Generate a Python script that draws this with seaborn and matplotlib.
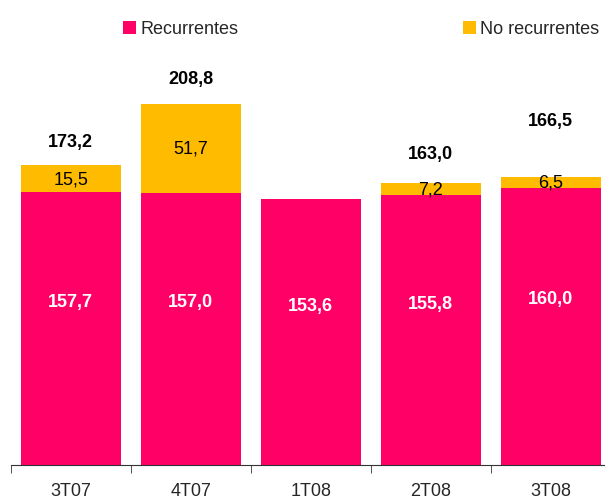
import pandas as pd
import numpy as np
import matplotlib.pyplot as plt
import seaborn as sns

# Step 1: Build the data table
df = pd.DataFrame({
    'Trimestre': ['3T07', '4T07', '1T08', '2T08', '3T08'],
    'Recurrentes': [157.7, 157.0, 153.6, 155.8, 160.0],
    'No recurrentes': [15.5, 51.7, 0.0, 7.2, 6.5],
})
df['Total'] = df['Recurrentes'] + df['No recurrentes']

# Step 2: Labels and where they go
total_txt = ['173,2', '208,8', '', '163,0', '166,5']
total_pos = [187, 223, 0, 180, 199]
nr_txt = ['15,5', '51,7', '', '7,2', '6,5']
nr_pos = [165.2, 183.2, 0, 159.6, 163.2]
rec_txt = ['157,7', '157,0', '153,6', '155,8', '160,0']

# Step 3: Style
sns.set_style('white')
plt.rcParams['font.family'] = ['Liberation Sans', 'DejaVu Sans']
pink = '#FF0066'
yellow = '#FFBB00'

fig = plt.figure(figsize=(6.05, 5.02), dpi=100)
ax = fig.add_axes([10.8 / 605, 36 / 502, 600 / 605, 406 / 502])

# Step 4: Stacked bars (total in yellow, recurring on top in pink)
sns.barplot(x='Trimestre', y='Total', data=df, color=yellow, width=0.83,
            saturation=1, linewidth=0, label='No recurrentes', ax=ax)
sns.barplot(x='Trimestre', y='Recurrentes', data=df, color=pink, width=0.83,
            saturation=1, linewidth=0, label='Recurrentes', ax=ax)

# Step 5: Value labels
for i in range(len(df)):
    ax.text(i, df['Recurrentes'][i] * 0.6, rec_txt[i], ha='center', va='center',
            color='white', fontsize=13, fontweight='bold')
    if nr_txt[i]:
        ax.text(i, nr_pos[i], nr_txt[i], ha='center', va='center',
                color='black', fontsize=13)
    if total_txt[i]:
        ax.text(i, total_pos[i], total_txt[i], ha='center', va='center',
                color='black', fontsize=13, fontweight='bold')

# Step 6: Axes look
ax.set_xlim(-0.5, 4.5)
ax.set_ylim(0, 234.5)
ax.set_xlabel('')
ax.set_ylabel('')
ax.set_yticks([])
for side in ['top', 'right', 'left']:
    ax.spines[side].set_visible(False)
ax.spines['bottom'].set_color('#333333')
ax.set_xticks(np.arange(5))
ax.set_xticklabels(df['Trimestre'], fontsize=13)
ax.tick_params(axis='x', which='major', length=0, pad=12)
ax.set_xticks(np.arange(-0.5, 5), minor=True)
ax.tick_params(axis='x', which='minor', length=6, color='#333333', direction='out', bottom=True)

# Step 7: Legend
handles, labels = ax.get_legend_handles_labels()
ax.legend(handles[::-1], labels[::-1], ncol=2, frameon=False, fontsize=13,
          loc='center left', bbox_to_anchor=(105 / 600, 1 + 30 / 406),
          handlelength=0.7, handleheight=0.7, handletextpad=0.25,
          columnspacing=12.45, borderaxespad=0)

plt.savefig('out.png', dpi=100)
